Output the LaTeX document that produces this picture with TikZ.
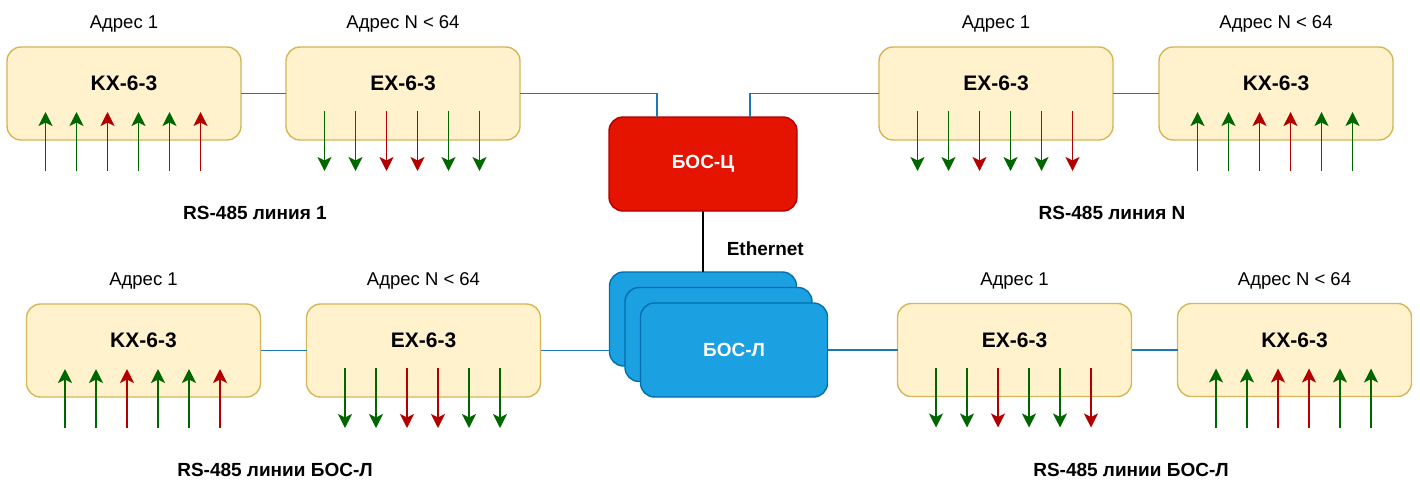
\documentclass[tikz,border=0pt]{standalone}
\usepackage{fontspec}
\setsansfont{Liberation Sans}
\usetikzlibrary{positioning}
\usetikzlibrary{arrows.meta}

\definecolor{unitfill}{HTML}{FFF2CC}
\definecolor{unitline}{HTML}{D6B656}
\definecolor{sigok}{HTML}{006600}
\definecolor{sigalarm}{HTML}{B20000}
\definecolor{busline}{HTML}{1F77B4}
\definecolor{boscfill}{HTML}{E51400}
\definecolor{boscline}{HTML}{B20000}
\definecolor{boslfill}{HTML}{1BA1E2}
\definecolor{boslline}{HTML}{006EAF}

\begin{document}
\begin{tikzpicture}[>={Stealth[length=14pt,width=14pt,inset=3.5pt]},font=\sffamily,x=1pt,y=1pt,
	unit/.style={minimum width=234pt,minimum height=93pt,outer sep=0pt,inner sep=0pt,rounded corners=14pt,draw=unitline,fill=unitfill,line width=1.4pt,text depth=20pt,font=\sffamily\bfseries\fontsize{21}{25}\selectfont},
	centralbox/.style={minimum width=188pt,minimum height=94pt,outer sep=0pt,rounded corners=14pt,draw=boscline,fill=boscfill,line width=1.4pt,text=white,font=\sffamily\bfseries\fontsize{19}{23}\selectfont},
	linebox/.style={minimum width=187pt,minimum height=94pt,outer sep=0pt,rounded corners=14pt,draw=boslline,fill=boslfill,line width=1.4pt,text=white,font=\sffamily\bfseries\fontsize{19}{23}\selectfont},
	addr/.style={inner sep=0pt,font=\sffamily\fontsize{18.5}{22}\selectfont},
	lbl/.style={inner sep=0pt,font=\sffamily\bfseries\fontsize{19}{23}\selectfont},
	bus/.style={draw=busline,line width=1.6pt},
	eth/.style={draw=black,line width=1.5pt},
	oksig/.style={->,draw=sigok,line width=1.3pt},
	alarmsig/.style={->,draw=sigalarm,line width=1.3pt}]
	\useasboundingbox (0,0) rectangle (1420,-480);

	% upper lines
	\node [unit] at (124,-93.5) (kx1) {KX-6-3};
	\node [unit,right=45pt of kx1] (ex1) {EX-6-3};
	\node [centralbox] at (703,-164) (bosc) {БОС-Ц};
	\node [unit] at (996,-93.5) (ex2) {EX-6-3};
	\node [unit,right=46pt of ex2] (kx2) {KX-6-3};

	\node [addr,above=14pt of kx1] (kx1_addr) {Адрес 1};
	\node [addr,above=14pt of ex1] (ex1_addr) {Адрес N < 64};
	\node [addr,above=14pt of ex2] (ex2_addr) {Адрес 1};
	\node [addr,above=14pt of kx2] (kx2_addr) {Адрес N < 64};

	\node [lbl] at (255,-213) (line1_txt) {RS-485 линия 1};
	\node [lbl] at (1112,-213) (lineN_txt) {RS-485 линия N};

	% lower lines
	\node [unit] at (143.5,-350.5) (kx3) {KX-6-3};
	\node [unit,right=46pt of kx3] (ex3) {EX-6-3};
	\node [linebox,below=61pt of bosc] (bosl1) {};
	\node [linebox,xshift=15.5pt,yshift=-15.5pt] at (bosl1) (bosl2) {};
	\node [linebox,xshift=15.5pt,yshift=-15.5pt] at (bosl2) (bosl3) {БОС-Л};
	\node [unit,right=70pt of bosl3] (ex4) {EX-6-3};
	\node [unit,right=46pt of ex4] (kx4) {KX-6-3};

	\node [addr,above=14pt of kx3] (kx3_addr) {Адрес 1};
	\node [addr,above=14pt of ex3] (ex3_addr) {Адрес N < 64};
	\node [addr,above=14pt of ex4] (ex4_addr) {Адрес 1};
	\node [addr,above=14pt of kx4] (kx4_addr) {Адрес N < 64};

	\node [lbl] at (275,-470) (bosl_txt1) {RS-485 линии БОС-Л};
	\node [lbl] at (1131,-470) (bosl_txt2) {RS-485 линии БОС-Л};

	% buses
	\draw[bus] (kx1.east) -- (ex1.west);
	\draw[bus] (ex1.east) -| ([xshift=-46pt]bosc.north);
	\draw[bus] (ex2.west) -| ([xshift=47pt]bosc.north);
	\draw[bus] (ex2.east) -- (kx2.west);
	\draw[eth] (bosc.south) -- node[lbl,pos=.62,right=23pt] {Ethernet} (bosl1.north);
	\draw[bus] (kx3.east) -- (ex3.west);
	\draw[bus] (ex3.east) -- (ex3.east-|bosl1.west);
	\draw[bus] (bosl3.east) -- (ex4.west);
	\draw[bus] (ex4.east) -- (kx4.west);

	% inputs and outputs
	\draw[oksig] ([xshift=-78.5pt,yshift=-31pt]kx1.south) -- ++(0,59);
	\draw[oksig] ([xshift=-47.5pt,yshift=-31pt]kx1.south) -- ++(0,59);
	\draw[alarmsig] ([xshift=-16.5pt,yshift=-31pt]kx1.south) -- ++(0,59);
	\draw[oksig] ([xshift=14.5pt,yshift=-31pt]kx1.south) -- ++(0,59);
	\draw[oksig] ([xshift=45.5pt,yshift=-31pt]kx1.south) -- ++(0,59);
	\draw[alarmsig] ([xshift=76.5pt,yshift=-31pt]kx1.south) -- ++(0,59);

	\draw[oksig] ([xshift=-78.5pt,yshift=29pt]ex1.south) -- ++(0,-60);
	\draw[oksig] ([xshift=-47.5pt,yshift=29pt]ex1.south) -- ++(0,-60);
	\draw[alarmsig] ([xshift=-16.5pt,yshift=29pt]ex1.south) -- ++(0,-60);
	\draw[alarmsig] ([xshift=14.5pt,yshift=29pt]ex1.south) -- ++(0,-60);
	\draw[oksig] ([xshift=45.5pt,yshift=29pt]ex1.south) -- ++(0,-60);
	\draw[oksig] ([xshift=76.5pt,yshift=29pt]ex1.south) -- ++(0,-60);

	\draw[oksig] ([xshift=-78.5pt,yshift=29pt]ex2.south) -- ++(0,-60);
	\draw[oksig] ([xshift=-47.5pt,yshift=29pt]ex2.south) -- ++(0,-60);
	\draw[alarmsig] ([xshift=-16.5pt,yshift=29pt]ex2.south) -- ++(0,-60);
	\draw[oksig] ([xshift=14.5pt,yshift=29pt]ex2.south) -- ++(0,-60);
	\draw[oksig] ([xshift=45.5pt,yshift=29pt]ex2.south) -- ++(0,-60);
	\draw[alarmsig] ([xshift=76.5pt,yshift=29pt]ex2.south) -- ++(0,-60);

	\draw[oksig] ([xshift=-78.5pt,yshift=-31pt]kx2.south) -- ++(0,59);
	\draw[oksig] ([xshift=-47.5pt,yshift=-31pt]kx2.south) -- ++(0,59);
	\draw[alarmsig] ([xshift=-16.5pt,yshift=-31pt]kx2.south) -- ++(0,59);
	\draw[alarmsig] ([xshift=14.5pt,yshift=-31pt]kx2.south) -- ++(0,59);
	\draw[oksig] ([xshift=45.5pt,yshift=-31pt]kx2.south) -- ++(0,59);
	\draw[oksig] ([xshift=76.5pt,yshift=-31pt]kx2.south) -- ++(0,59);

	\draw[oksig] ([xshift=-78.5pt,yshift=-31pt]kx3.south) -- ++(0,59);
	\draw[oksig] ([xshift=-47.5pt,yshift=-31pt]kx3.south) -- ++(0,59);
	\draw[alarmsig] ([xshift=-16.5pt,yshift=-31pt]kx3.south) -- ++(0,59);
	\draw[oksig] ([xshift=14.5pt,yshift=-31pt]kx3.south) -- ++(0,59);
	\draw[oksig] ([xshift=45.5pt,yshift=-31pt]kx3.south) -- ++(0,59);
	\draw[alarmsig] ([xshift=76.5pt,yshift=-31pt]kx3.south) -- ++(0,59);

	\draw[oksig] ([xshift=-78.5pt,yshift=29pt]ex3.south) -- ++(0,-60);
	\draw[oksig] ([xshift=-47.5pt,yshift=29pt]ex3.south) -- ++(0,-60);
	\draw[alarmsig] ([xshift=-16.5pt,yshift=29pt]ex3.south) -- ++(0,-60);
	\draw[alarmsig] ([xshift=14.5pt,yshift=29pt]ex3.south) -- ++(0,-60);
	\draw[oksig] ([xshift=45.5pt,yshift=29pt]ex3.south) -- ++(0,-60);
	\draw[oksig] ([xshift=76.5pt,yshift=29pt]ex3.south) -- ++(0,-60);

	\draw[oksig] ([xshift=-78.5pt,yshift=29pt]ex4.south) -- ++(0,-60);
	\draw[oksig] ([xshift=-47.5pt,yshift=29pt]ex4.south) -- ++(0,-60);
	\draw[alarmsig] ([xshift=-16.5pt,yshift=29pt]ex4.south) -- ++(0,-60);
	\draw[oksig] ([xshift=14.5pt,yshift=29pt]ex4.south) -- ++(0,-60);
	\draw[oksig] ([xshift=45.5pt,yshift=29pt]ex4.south) -- ++(0,-60);
	\draw[alarmsig] ([xshift=76.5pt,yshift=29pt]ex4.south) -- ++(0,-60);

	\draw[oksig] ([xshift=-78.5pt,yshift=-31pt]kx4.south) -- ++(0,59);
	\draw[oksig] ([xshift=-47.5pt,yshift=-31pt]kx4.south) -- ++(0,59);
	\draw[alarmsig] ([xshift=-16.5pt,yshift=-31pt]kx4.south) -- ++(0,59);
	\draw[alarmsig] ([xshift=14.5pt,yshift=-31pt]kx4.south) -- ++(0,59);
	\draw[oksig] ([xshift=45.5pt,yshift=-31pt]kx4.south) -- ++(0,59);
	\draw[oksig] ([xshift=76.5pt,yshift=-31pt]kx4.south) -- ++(0,59);
\end{tikzpicture}
\end{document}
